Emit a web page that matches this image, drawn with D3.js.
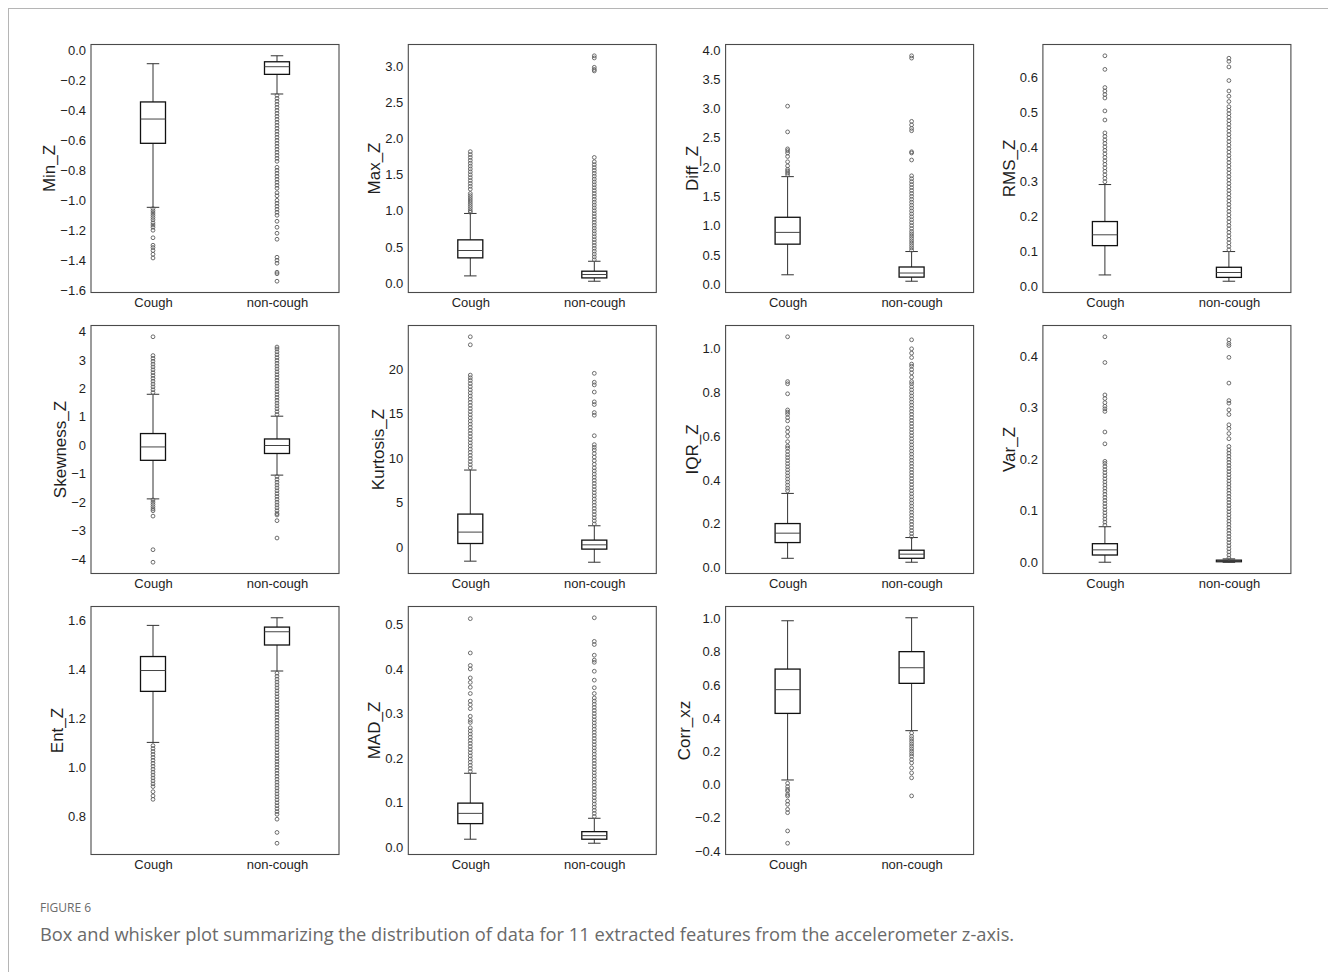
<!DOCTYPE html>
<html>
<head>
<meta charset="utf-8">
<script src="https://cdn.jsdelivr.net/npm/d3@7"></script>
<style>
  body { margin: 0; background: #fff; }
  svg { display: block; }
</style>
</head>
<body>
<script>
// groups on the x axis of every panel
const groups = ["Cough", "non-cough"];
const features = ["Min_Z", "Max_Z", "Diff_Z", "RMS_Z", "Skewness_Z", "Kurtosis_Z",
  "IQR_Z", "Var_Z", "Ent_Z", "MAD_Z", "Corr_xz"];

// box stats per group: [lower whisker, q1, median, q3, upper whisker]
const minZStats = [[-1.047, -0.62, -0.458, -0.344, -0.089], [-0.291, -0.16, -0.109, -0.076, -0.036]];
const minZOut = [
  [-1.055, -1.07, -1.085, -1.10, -1.115, -1.13, -1.15, -1.165, -1.18, -1.20, -1.25, -1.30, -1.315, -1.335, -1.36, -1.385],
  [-0.30, -0.32, -0.34, -0.36, -0.38, -0.40, -0.42, -0.44, -0.46, -0.48, -0.50, -0.52, -0.54, -0.56, -0.58, -0.60, -0.62, -0.64, -0.66, -0.68, -0.70, -0.72, -0.74, -0.78, -0.80, -0.82, -0.84, -0.86, -0.88, -0.90, -0.92, -0.95, -0.97, -1.00, -1.02, -1.04, -1.06, -1.08, -1.10, -1.14, -1.18, -1.22, -1.26, -1.38, -1.40, -1.42, -1.48, -1.49, -1.54]
];
const minZTicks = [-1.6, -1.4, -1.2, -1.0, -0.8, -0.6, -0.4, -0.2, 0.0];

const maxZStats = [[0.097, 0.347, 0.449, 0.597, 0.963], [0.023, 0.069, 0.116, 0.162, 0.30]];
const maxZOut = [
  [0.98, 1.00, 1.03, 1.06, 1.09, 1.12, 1.15, 1.18, 1.21, 1.24, 1.30, 1.34, 1.38, 1.42, 1.46, 1.50, 1.54, 1.58, 1.62, 1.66, 1.70, 1.74, 1.78, 1.82],
  [0.32, 0.36, 0.40, 0.44, 0.48, 0.52, 0.56, 0.60, 0.64, 0.68, 0.72, 0.76, 0.80, 0.84, 0.88, 0.92, 0.96, 1.00, 1.04, 1.08, 1.12, 1.16, 1.20, 1.24, 1.28, 1.32, 1.36, 1.40, 1.44, 1.48, 1.52, 1.56, 1.60, 1.64, 1.68, 1.74, 2.94, 2.96, 2.99, 3.12, 3.15]
];
const maxZTicks = [0.0, 0.5, 1.0, 1.5, 2.0, 2.5, 3.0];

const diffZStats = [[0.16, 0.683, 0.884, 1.142, 1.836], [0.05, 0.12, 0.19, 0.293, 0.557]];
const diffZOut = [
  [1.87, 1.90, 1.93, 1.96, 2.02, 2.09, 2.18, 2.24, 2.28, 2.31, 2.60, 3.04],
  [0.58, 0.62, 0.66, 0.70, 0.74, 0.78, 0.82, 0.86, 0.90, 0.95, 1.00, 1.05, 1.10, 1.15, 1.20, 1.25, 1.30, 1.35, 1.40, 1.45, 1.50, 1.55, 1.60, 1.65, 1.70, 1.75, 1.80, 1.85, 2.12, 2.24, 2.26, 2.62, 2.66, 2.72, 2.78, 3.86, 3.90]
];
const diffZTicks = [0.0, 0.5, 1.0, 1.5, 2.0, 2.5, 3.0, 3.5, 4.0];

const rmsZStats = [[0.033, 0.117, 0.148, 0.186, 0.292], [0.015, 0.026, 0.04, 0.055, 0.10]];
const rmsZOut = [
  [0.30, 0.31, 0.32, 0.33, 0.34, 0.35, 0.36, 0.37, 0.38, 0.39, 0.40, 0.41, 0.42, 0.43, 0.44, 0.477, 0.503, 0.54, 0.55, 0.56, 0.57, 0.622, 0.661],
  [0.105, 0.115, 0.125, 0.135, 0.145, 0.155, 0.165, 0.175, 0.185, 0.195, 0.205, 0.215, 0.225, 0.235, 0.245, 0.255, 0.265, 0.275, 0.285, 0.295, 0.305, 0.315, 0.325, 0.335, 0.345, 0.355, 0.365, 0.375, 0.385, 0.395, 0.405, 0.415, 0.425, 0.435, 0.445, 0.455, 0.465, 0.475, 0.485, 0.495, 0.505, 0.515, 0.53, 0.545, 0.56, 0.59, 0.629, 0.645, 0.654]
];
const rmsZTicks = [0.0, 0.1, 0.2, 0.3, 0.4, 0.5, 0.6];

const skewZStats = [[-1.885, -0.53, -0.06, 0.41, 1.79], [-1.05, -0.29, -0.01, 0.22, 1.02]];
const skewZOut = [
  [1.85, 1.95, 2.05, 2.15, 2.25, 2.35, 2.45, 2.55, 2.65, 2.75, 2.85, 2.95, 3.05, 3.15, 3.81, -1.92, -2.00, -2.08, -2.16, -2.24, -2.30, -2.49, -3.67, -4.11],
  [1.08, 1.18, 1.28, 1.38, 1.48, 1.58, 1.68, 1.78, 1.88, 1.98, 2.08, 2.18, 2.28, 2.38, 2.48, 2.58, 2.68, 2.78, 2.88, 2.98, 3.08, 3.18, 3.28, 3.38, 3.45, -1.10, -1.20, -1.30, -1.40, -1.50, -1.60, -1.70, -1.80, -1.90, -2.00, -2.10, -2.20, -2.30, -2.40, -2.45, -2.65, -3.26]
];
const skewZTicks = [-4, -3, -2, -1, 0, 1, 2, 3, 4];

const kurtZStats = [[-1.57, 0.41, 1.69, 3.71, 8.65], [-1.69, -0.22, 0.26, 0.79, 2.4]];
const kurtZOut = [
  [8.9, 9.25, 9.6, 9.95, 10.3, 10.65, 11.0, 11.35, 11.7, 12.05, 12.4, 12.75, 13.1, 13.45, 13.8, 14.15, 14.5, 14.85, 15.2, 15.55, 15.9, 16.25, 16.6, 16.95, 17.3, 17.65, 18.0, 18.35, 18.7, 19.0, 19.3, 22.7, 23.6],
  [2.6, 2.95, 3.3, 3.65, 4.0, 4.35, 4.7, 5.05, 5.4, 5.75, 6.1, 6.45, 6.8, 7.15, 7.5, 7.85, 8.2, 8.55, 8.9, 9.3, 9.7, 10.1, 10.5, 10.9, 11.2, 11.5, 12.5, 14.8, 15.1, 16.0, 16.3, 17.4, 18.2, 18.5, 19.5]
];
const kurtZTicks = [0, 5, 10, 15, 20];

const iqrZStats = [[0.041, 0.113, 0.156, 0.2, 0.338], [0.023, 0.041, 0.06, 0.078, 0.136]];
const iqrZOut = [
  [0.35, 0.362, 0.376, 0.39, 0.404, 0.418, 0.432, 0.446, 0.46, 0.474, 0.488, 0.502, 0.515, 0.53, 0.545, 0.555, 0.575, 0.60, 0.62, 0.638, 0.67, 0.685, 0.70, 0.71, 0.72, 0.794, 0.84, 0.85, 1.055],
  [0.14, 0.154, 0.168, 0.182, 0.196, 0.21, 0.224, 0.238, 0.252, 0.266, 0.28, 0.294, 0.308, 0.322, 0.336, 0.35, 0.364, 0.378, 0.392, 0.406, 0.42, 0.434, 0.448, 0.462, 0.476, 0.49, 0.504, 0.518, 0.532, 0.546, 0.56, 0.574, 0.588, 0.602, 0.616, 0.63, 0.644, 0.658, 0.672, 0.686, 0.70, 0.714, 0.728, 0.742, 0.756, 0.77, 0.784, 0.798, 0.812, 0.826, 0.84, 0.85, 0.87, 0.89, 0.905, 0.92, 0.93, 0.96, 0.98, 1.0, 1.041]
];
const iqrZTicks = [0.0, 0.2, 0.4, 0.6, 0.8, 1.0];

const varZStats = [[0.0, 0.014, 0.024, 0.036, 0.069], [0.0, 0.001, 0.002, 0.004, 0.0065]];
const varZOut = [
  [0.072, 0.078, 0.084, 0.09, 0.096, 0.102, 0.108, 0.114, 0.12, 0.126, 0.132, 0.138, 0.144, 0.15, 0.156, 0.162, 0.168, 0.174, 0.18, 0.186, 0.192, 0.196, 0.23, 0.253, 0.293, 0.298, 0.303, 0.31, 0.318, 0.325, 0.388, 0.438],
  [0.008, 0.014, 0.02, 0.026, 0.032, 0.038, 0.044, 0.05, 0.056, 0.062, 0.068, 0.074, 0.08, 0.086, 0.092, 0.098, 0.104, 0.11, 0.116, 0.122, 0.128, 0.134, 0.14, 0.146, 0.152, 0.158, 0.164, 0.17, 0.176, 0.182, 0.188, 0.194, 0.2, 0.206, 0.212, 0.218, 0.225, 0.24, 0.25, 0.26, 0.267, 0.287, 0.296, 0.309, 0.314, 0.348, 0.398, 0.421, 0.425, 0.432]
];
const varZTicks = [0.0, 0.1, 0.2, 0.3, 0.4];

const entZStats = [[1.103, 1.311, 1.396, 1.453, 1.58], [1.394, 1.5, 1.554, 1.573, 1.611]];
const entZOut = [
  [1.09, 1.078, 1.066, 1.054, 1.042, 1.03, 1.018, 1.006, 0.994, 0.982, 0.97, 0.958, 0.946, 0.934, 0.923, 0.902, 0.885, 0.871],
  [1.385, 1.373, 1.361, 1.349, 1.337, 1.325, 1.313, 1.301, 1.289, 1.277, 1.265, 1.253, 1.241, 1.229, 1.217, 1.205, 1.193, 1.181, 1.169, 1.157, 1.145, 1.133, 1.121, 1.109, 1.097, 1.085, 1.073, 1.061, 1.049, 1.037, 1.025, 1.013, 1.001, 0.989, 0.977, 0.965, 0.953, 0.941, 0.929, 0.917, 0.905, 0.893, 0.881, 0.869, 0.857, 0.845, 0.833, 0.821, 0.81, 0.79, 0.736, 0.692]
];
const entZTicks = [0.8, 1.0, 1.2, 1.4, 1.6];

const madZStats = [[0.018, 0.053, 0.076, 0.099, 0.166], [0.009, 0.018, 0.026, 0.035, 0.065]];
const madZOut = [
  [0.17, 0.177, 0.184, 0.191, 0.198, 0.205, 0.212, 0.219, 0.226, 0.233, 0.24, 0.247, 0.254, 0.261, 0.268, 0.28, 0.285, 0.294, 0.311, 0.32, 0.328, 0.345, 0.359, 0.37, 0.38, 0.40, 0.408, 0.436, 0.513],
  [0.069, 0.076, 0.083, 0.09, 0.097, 0.104, 0.111, 0.118, 0.125, 0.132, 0.139, 0.146, 0.153, 0.16, 0.167, 0.174, 0.181, 0.188, 0.195, 0.202, 0.209, 0.216, 0.223, 0.23, 0.237, 0.244, 0.251, 0.258, 0.265, 0.272, 0.279, 0.286, 0.293, 0.3, 0.307, 0.314, 0.321, 0.328, 0.335, 0.345, 0.358, 0.375, 0.395, 0.415, 0.42, 0.431, 0.455, 0.462, 0.515]
];
const madZTicks = [0.0, 0.1, 0.2, 0.3, 0.4, 0.5];

const corrStats = [[0.027, 0.428, 0.571, 0.695, 0.986], [0.324, 0.609, 0.703, 0.8, 1.004]];
const corrOut = [
  [0.007, -0.013, -0.03, -0.04, -0.06, -0.07, -0.10, -0.12, -0.15, -0.17, -0.28, -0.354],
  [0.31, 0.29, 0.275, 0.26, 0.245, 0.23, 0.215, 0.2, 0.185, 0.17, 0.15, 0.13, 0.10, 0.07, 0.04, -0.069]
];
const corrTicks = [-0.4, -0.2, 0.0, 0.2, 0.4, 0.6, 0.8, 1.0];

const allStats = [minZStats, maxZStats, diffZStats, rmsZStats, skewZStats, kurtZStats,
  iqrZStats, varZStats, entZStats, madZStats, corrStats];
const allOut = [minZOut, maxZOut, diffZOut, rmsZOut, skewZOut, kurtZOut,
  iqrZOut, varZOut, entZOut, madZOut, corrOut];
const allTicks = [minZTicks, maxZTicks, diffZTicks, rmsZTicks, skewZTicks, kurtZTicks,
  iqrZTicks, varZTicks, entZTicks, madZTicks, corrTicks];

const width = 1328;
const height = 972;
const font = "'Liberation Sans', Arial, sans-serif";

const svg = d3.select("body").append("svg")
  .attr("width", width)
  .attr("height", height)
  .style("font-family", font);

// page frame lines
svg.append("line").attr("x1", 8).attr("x2", width).attr("y1", 8.5).attr("y2", 8.5)
  .attr("stroke", "#b5b5b5");
svg.append("line").attr("x1", 8.5).attr("x2", 8.5).attr("y1", 8).attr("y2", height)
  .attr("stroke", "#b5b5b5");

const panelW = 248;
const panelH = 248;
const left0 = 91;
const top0 = 44.5;
const colStep = 317.3;
const rowStep = 281;
const boxW = 25;

const minus = s => s.replace(/-/g, "\u2212");

features.forEach((name, i) => {
  const col = i % 4;
  const row = Math.floor(i / 4);
  const x0 = left0 + col * colStep;
  const y0 = top0 + row * rowStep;

  const stats = allStats[i];
  const outs = allOut[i];
  const ticks = allTicks[i];

  // matplotlib style autoscale: data extent plus 5% margin
  const vals = stats.flat().concat(outs.flat());
  const [lo, hi] = d3.extent(vals);
  const pad = (hi - lo) * 0.05;

  const x = d3.scalePoint().domain(groups).range([x0, x0 + panelW]).padding(0.5);
  const y = d3.scaleLinear().domain([lo - pad, hi + pad]).range([y0 + panelH, y0]);

  const intTicks = ticks.every(t => Number.isInteger(t)) && ticks[1] - ticks[0] >= 1;
  const fmt = intTicks ? d3.format("d") : d3.format(".1f");

  const g = svg.append("g");

  // y axis
  const yAxis = g.append("g")
    .attr("transform", `translate(${x0},0)`)
    .call(d3.axisLeft(y).tickValues(ticks).tickSize(0).tickPadding(5)
      .tickFormat(d => minus(fmt(d))));
  yAxis.select(".domain").remove();
  yAxis.selectAll("text").attr("font-size", 13).attr("fill", "#1e1e1e")
    .attr("font-family", font);

  // x axis
  const xAxis = g.append("g")
    .attr("transform", `translate(0,${y0 + panelH})`)
    .call(d3.axisBottom(x).tickSize(0).tickPadding(5));
  xAxis.select(".domain").remove();
  xAxis.selectAll("text").attr("font-size", 13).attr("fill", "#1e1e1e")
    .attr("font-family", font);

  // y label, placed left of the widest tick label
  let maxTickW = 0;
  yAxis.selectAll("text").each(function () {
    maxTickW = Math.max(maxTickW, this.getComputedTextLength());
  });
  const lx = x0 - 5 - maxTickW - 5;
  g.append("text")
    .attr("transform", `translate(${lx},${y0 + panelH / 2}) rotate(-90)`)
    .attr("text-anchor", "middle")
    .attr("font-size", 17)
    .attr("fill", "#1e1e1e")
    .text(name);

  // boxes
  groups.forEach((grp, k) => {
    const [w0, q1, med, q3, w1] = stats[k];
    const cx = x(grp);
    const bg = g.append("g");

    // whiskers
    bg.append("line").attr("x1", cx).attr("x2", cx).attr("y1", y(q3)).attr("y2", y(w1))
      .attr("stroke", "#333").attr("stroke-width", 1);
    bg.append("line").attr("x1", cx).attr("x2", cx).attr("y1", y(q1)).attr("y2", y(w0))
      .attr("stroke", "#333").attr("stroke-width", 1);
    // caps
    [w0, w1].forEach(v => {
      bg.append("line").attr("x1", cx - boxW / 4).attr("x2", cx + boxW / 4)
        .attr("y1", y(v)).attr("y2", y(v))
        .attr("stroke", "#333").attr("stroke-width", 1);
    });
    // box
    bg.append("rect")
      .attr("x", cx - boxW / 2).attr("width", boxW)
      .attr("y", y(q3)).attr("height", Math.max(1, y(q1) - y(q3)))
      .attr("fill", "#fff").attr("stroke", "#111").attr("stroke-width", 1.3);
    // median
    bg.append("line").attr("x1", cx - boxW / 2).attr("x2", cx + boxW / 2)
      .attr("y1", y(med)).attr("y2", y(med))
      .attr("stroke", "#444").attr("stroke-width", 1);

    // fliers
    bg.append("g").selectAll("circle")
      .data(outs[k])
      .join("circle")
      .attr("cx", cx)
      .attr("cy", d => y(d))
      .attr("r", 1.9)
      .attr("fill", "none")
      .attr("stroke", "#5e5e5e")
      .attr("stroke-width", 0.9);
  });

  // axes frame
  g.append("rect")
    .attr("x", x0).attr("y", y0).attr("width", panelW).attr("height", panelH)
    .attr("fill", "none").attr("stroke", "#4a4a4a").attr("stroke-width", 1.1);
});

// caption
svg.append("text")
  .attr("x", 40).attr("y", 912)
  .attr("font-family", "'Open Sans', sans-serif")
  .attr("font-size", 12)
  .attr("fill", "#6a6a6a")
  .text("FIGURE 6");

svg.append("text")
  .attr("x", 40).attr("y", 941)
  .attr("font-family", "'Open Sans', sans-serif")
  .attr("font-size", 18.3)
  .attr("fill", "#6a6a6a")
  .text("Box and whisker plot summarizing the distribution of data for 11 extracted features from the accelerometer z-axis.");
</script>
</body>
</html>
